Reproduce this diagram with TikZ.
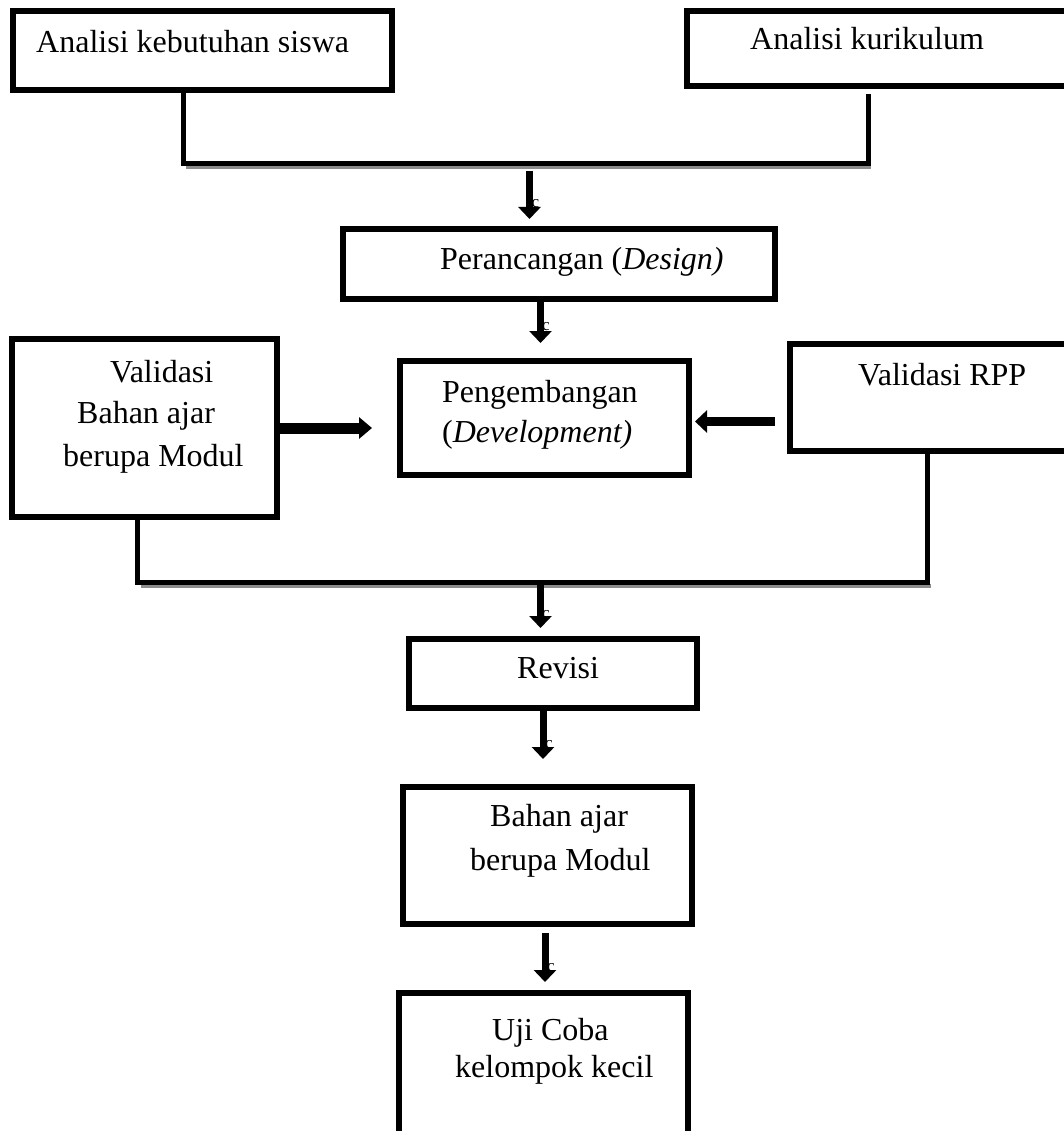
\documentclass[tikz,border=0pt]{standalone}
\usepackage{fontspec}
\setmainfont{Liberation Serif}
\usetikzlibrary{arrows.meta}
\begin{document}
\begin{tikzpicture}[x=1pt,y=-1pt,
  box/.style={draw=black, line width=5.5pt, inner sep=0pt, outer sep=0pt, fill=white},
  txt/.style={anchor=base west, inner sep=0pt, font=\fontsize{32}{38}\selectfont},
  cmark/.style={anchor=base west, inner sep=0pt, font=\fontsize{17}{17}\selectfont},
  conn/.style={draw=black, line width=5pt},
  shadowline/.style={draw=black!45, line width=4pt},
  varrow/.style={line width=7pt, -{Triangle[width=22pt,length=12pt]}},
]
\useasboundingbox (0,0) rectangle (1064,1131);
\clip (0,0) rectangle (1064,1131);
\fill[white] (0,0) rectangle (1064,1131);

% boxes
\node[box, minimum width=379pt, minimum height=79pt] (b1) at (202.5,50.5) {};
\node[box, minimum width=388pt, minimum height=75pt] (b2) at (881,48.5) {};
\node[box, minimum width=432pt, minimum height=70pt] (b3) at (559,264) {};
\node[box, minimum width=289pt, minimum height=114pt] (b4) at (544.5,418) {};
\node[box, minimum width=265pt, minimum height=178pt] (b5) at (144.5,428) {};
\node[box, minimum width=285pt, minimum height=107pt] (b6) at (932.5,397.5) {};
\node[box, minimum width=288pt, minimum height=69pt] (b7) at (553,673.5) {};
\node[box, minimum width=289pt, minimum height=137pt] (b8) at (547.5,855.5) {};
\node[box, minimum width=289pt, minimum height=152pt] (b9) at (543.5,1069) {};

% texts
\node[txt] (t1) at (36,53) {Analisi kebutuhan siswa};
\node[txt] (t2) at (750,50) {Analisi kurikulum};
\node[txt] (t3) at (440,270) {Perancangan (\textit{Design)}};
\node[txt] (t4a) at (442,402) {Pengembangan};
\node[txt] (t4b) at (442,442) {(\textit{Development)}};
\node[txt] (t5a) at (110,382) {Validasi};
\node[txt] (t5b) at (77,423) {Bahan ajar};
\node[txt] (t5c) at (63,466) {berupa Modul};
\node[txt] (t6) at (858,385) {Validasi RPP};
\node[txt] (t7) at (517,678) {Revisi};
\node[txt] (t8a) at (490,826) {Bahan ajar};
\node[txt] (t8b) at (470,870) {berupa Modul};
\node[txt] (t9a) at (492,1040) {Uji Coba};
\node[txt] (t9b) at (455,1077) {kelompok kecil};

% junction coordinates
\coordinate (j1) at (183,163.5);
\coordinate (j2) at (868,163.5);
\coordinate (k1) at (137.5,582);
\coordinate (k2) at (927.5,582);
\coordinate (m1) at (529.5,163.5);
\coordinate (m2) at (540.5,582);
\coordinate (a2) at (540.5,0);
\coordinate (a4) at (543,0);
\coordinate (a5) at (545,0);
\coordinate (h2) at (0,421.5);

% connectors with shadow
\draw[shadowline] ([shift={(3,4)}]j1) -- ([shift={(3,4)}]j2);
\draw[conn, shorten >=8pt] (b1.south -| j1) -- (j1) -- (j2) -- (b2.south -| j2);
\draw[shadowline] ([shift={(3,4)}]k1) -- ([shift={(3,4)}]k2);
\draw[conn] (b5.south -| k1) -- (k1) -- (k2) -- (b6.south -| k2);

% small c marks
\node[cmark] (c1) at (531.5,208) {c};
\node[cmark] (c2) at (542,330) {c};
\node[cmark] (c3) at (542,618) {c};
\node[cmark] (c4) at (545,748) {c};
\node[cmark] (c5) at (547,971) {c};

% vertical arrows
\draw[varrow, shorten <=7.5pt, shorten >=10pt] (m1) -- (m1 |- b3.north);
\draw[varrow, shorten >=18pt] (b3.south -| a2) -- (b4.north -| a2);
\draw[varrow, shorten >=11pt] (m2) -- (m2 |- b7.north);
\draw[varrow, shorten >=28pt] (b7.south -| a4) -- (b8.north -| a4);
\draw[varrow, shorten <=9pt, shorten >=11pt] (b8.south -| a5) -- (b9.north -| a5);

% horizontal arrows
\draw[line width=11pt, -{Triangle[width=21pt,length=13pt]}, shorten <=2.5pt, shorten >=28pt]
  (b5.east) -- (b5.east -| b4.west);
\draw[line width=9pt, -{Triangle[width=22pt,length=12pt]}, shorten <=15pt, shorten >=6pt]
  (b6.west |- h2) -- (b4.east |- h2);
\end{tikzpicture}
\end{document}
